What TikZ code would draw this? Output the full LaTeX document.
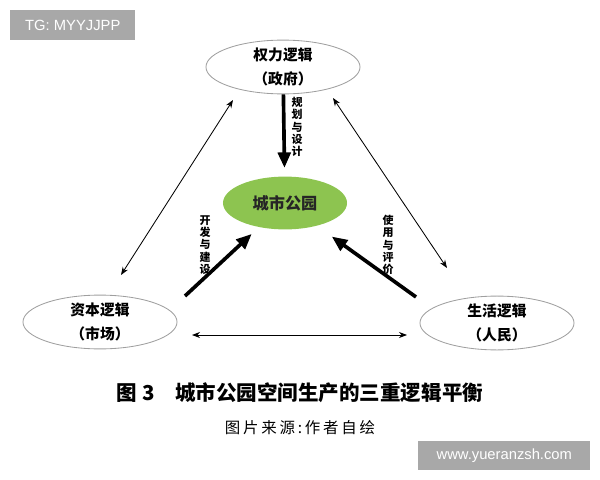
\documentclass[tikz,border=0pt]{standalone}
\usepackage{fontspec}
\setmainfont{Liberation Sans}
\newfontfamily\cjk{Noto Sans CJK SC}
\newfontfamily\cjkwide[LetterSpace=18]{Noto Sans CJK SC}
\usetikzlibrary{shapes.geometric,arrows.meta,positioning}
\definecolor{parkgreen}{RGB}{141,196,80}
\definecolor{tagrey}{RGB}{168,168,168}
\begin{document}
\begin{tikzpicture}[x=0.025cm, y=-0.025cm, line join=round, line cap=round, >=Stealth,
		logic/.style={ellipse, draw=gray!75, line width=0.6pt, minimum width=3.85cm, minimum height=1.3cm,
			align=center, inner sep=0pt, font=\cjk\bfseries\fontsize{10.5}{17}\selectfont},
		park/.style={ellipse, fill=parkgreen, minimum width=3.1cm, minimum height=1.32cm,
			text=black!85, font=\cjk\bfseries\fontsize{11.5}{14}\selectfont},
		tieline/.style={<->, line width=0.6pt},
		pusharrow/.style={-{Triangle[length=11pt, width=9pt]}, line width=2.6pt, line cap=butt},
		vlabel/.style={align=center, inner sep=0pt, font=\cjk\bfseries\fontsize{7.8}{8.8}\selectfont},
		tagbox/.style={fill=tagrey, text=white, inner sep=0pt, anchor=north west, font=\fontsize{10.5}{12}\selectfont}]
	\useasboundingbox (0,0) rectangle (600,480);
	% watermarks
	\node[tagbox, minimum width=3.125cm, minimum height=0.75cm] (tg) at (10,10) {TG: MYYJJPP};
	\node[tagbox, minimum width=4.3cm, minimum height=0.725cm] (www) at (418,441) {www.yueranzsh.com};
	% the three logics and the park
	\node[logic] (quanli) at (283,67) {权力逻辑\\（政府）};
	\node[park] (gongyuan) at (285,203) {城市公园};
	\node[logic] (ziben) at (100,322) {资本逻辑\\（市场）};
	\node[logic] (shenghuo) at (497,323) {生活逻辑\\（人民）};
	\path
	(121,275) coordinate (zb1)
	(233,100) coordinate (ql1)
	(447,268) coordinate (sh1)
	(333,98) coordinate (ql2)
	(192,335) coordinate (zb3)
	(407,335) coordinate (sh3)
	(185,296) coordinate (zb2)
	(416,297) coordinate (sh2);
	% thin links between the logics
	\draw[tieline] (zb1) -- (ql1);
	\draw[tieline] (sh1) -- (ql2);
	\draw[tieline] (zb3) -- (sh3);
	% thick arrows to the park
	\draw[pusharrow, shorten >=6pt] (quanli) -- (gongyuan);
	\draw[pusharrow, shorten >=7pt] (zb2) -- (gongyuan);
	\draw[pusharrow, shorten >=13pt] (sh2) -- (gongyuan);
	\node[vlabel] (guihua) at (297,127) {规\\划\\与\\设\\计};
	\node[vlabel] (kaifa) at (205,245) {开\\发\\与\\建\\设};
	\node[vlabel] (shiyong) at (388,245) {使\\用\\与\\评\\价};
	% caption
	\node[font=\cjk\bfseries\fontsize{14.6}{16}\selectfont] (caption) at (300,393) {图~3\quad 城市公园空间生产的三重逻辑平衡};
	\node[font=\cjkwide\fontsize{11}{13}\selectfont] (source) at (300,428) {图片来源:作者自绘};
\end{tikzpicture}
\end{document}
